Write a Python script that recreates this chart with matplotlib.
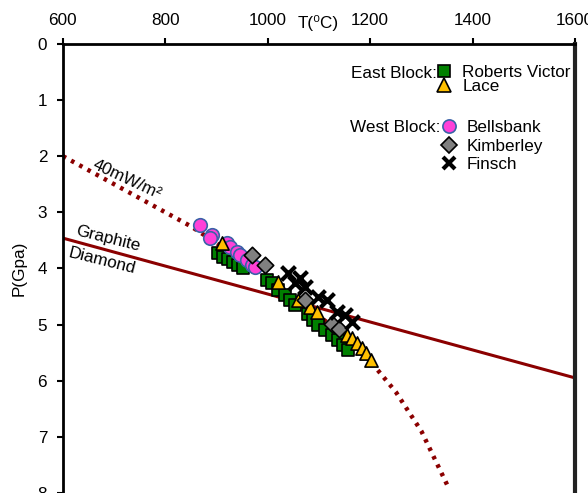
import matplotlib
matplotlib.use("Agg")
import matplotlib.pyplot as plt
from matplotlib.lines import Line2D

plt.rcParams['font.family'] = ['Liberation Sans', 'DejaVu Sans']
plt.rcParams['font.size'] = 12.3

# Roberts Victor (East Block)
rv_t = [903, 912, 922, 932, 942, 952, 998, 1008, 1020, 1034, 1043, 1053,
        1078, 1088, 1098, 1112, 1125, 1137, 1147, 1157]
rv_p = [3.73, 3.80, 3.83, 3.89, 3.94, 3.99, 4.21, 4.26, 4.39, 4.47, 4.56, 4.65,
        4.81, 4.92, 5.01, 5.10, 5.19, 5.28, 5.37, 5.45]

# Lace (East Block)
lace_t = [910, 1020, 1059, 1082, 1096, 1155, 1164, 1174, 1184, 1192, 1201]
lace_p = [3.55, 4.24, 4.56, 4.69, 4.78, 5.19, 5.24, 5.33, 5.42, 5.51, 5.63]

# Bellsbank (West Block)
bb_t = [868, 891, 887, 920, 926, 940, 946, 959, 969, 975]
bb_p = [3.23, 3.40, 3.46, 3.55, 3.62, 3.71, 3.76, 3.85, 3.94, 3.97]

# Kimberley (West Block)
kim_t = [969, 994, 1073, 1125, 1140]
kim_p = [3.76, 3.94, 4.56, 4.99, 5.08]

# Finsch (West Block)
fin_t = [1039, 1063, 1053, 1073, 1098, 1116, 1135, 1151, 1164]
fin_p = [4.08, 4.17, 4.26, 4.33, 4.51, 4.56, 4.78, 4.83, 4.96]

# 40 mW/m2 geotherm
geo_t = [600, 700, 800, 850, 900, 950, 1000, 1050, 1100, 1150, 1200, 1250, 1300, 1350]
geo_p = [2.0, 2.5, 3.0, 3.25, 3.55, 3.85, 4.15, 4.5, 4.85, 5.2, 5.65, 6.2, 6.9, 7.85]

# graphite-diamond transition
gd_t = [600, 1600]
gd_p = [3.46, 5.95]

x_ticks = [600, 800, 1000, 1200, 1400, 1600]
y_ticks = [0, 1, 2, 3, 4, 5, 6, 7, 8]

dark_red = '#8B0000'
fs = 12.3


def main():
    fig = plt.figure(figsize=(5.88, 4.93), dpi=100)
    ax = fig.add_axes([0.107, 0.0, 0.871, 0.911])

    ax.plot(gd_t, gd_p, color=dark_red, lw=2.2, zorder=2)
    ax.plot(geo_t, geo_p, color=dark_red, lw=3.2, linestyle=(0, (0.8, 1.3)),
            dash_capstyle='butt', zorder=2)

    ax.scatter(rv_t, rv_p, marker='s', s=70, color='#008000',
               edgecolor='black', linewidth=1.2, zorder=3)
    ax.scatter(bb_t, bb_p, marker='o', s=95, color='#FF40D8',
               edgecolor='#3A62A8', linewidth=1.2, zorder=4)
    ax.scatter(lace_t, lace_p, marker='^', s=90, color='#FFC000',
               edgecolor='black', linewidth=1.2, zorder=5)
    ax.scatter(kim_t, kim_p, marker='D', s=70, color='#808080',
               edgecolor='black', linewidth=1.2, zorder=6)
    ax.scatter(fin_t, fin_p, marker='x', s=100, color='black',
               linewidth=3, zorder=7)

    ax.set_xlim(600, 1600)
    ax.set_ylim(8, 0)
    ax.set_xticks(x_ticks)
    ax.set_yticks(y_ticks)
    ax.xaxis.tick_top()
    ax.tick_params(axis='both', direction='out', length=4.3, width=1.5,
                   labelsize=fs, colors='black', pad=7)
    ax.spines['bottom'].set_visible(False)
    ax.spines['top'].set_linewidth(2)
    ax.spines['left'].set_linewidth(2)
    ax.spines['right'].set_linewidth(3)
    ax.spines['right'].set_color('#222222')

    ax.set_ylabel('P(Gpa)', fontsize=fs, labelpad=8)
    ax.text(0.498, 1.036, 'T(\u2070C)', transform=ax.transAxes,
            ha='center', va='baseline', fontsize=fs)

    ax.text(623, 3.40, 'Graphite', rotation=-14, fontsize=fs,
            ha='left', va='baseline', rotation_mode='anchor')
    ax.text(610, 3.79, 'Diamond', rotation=-14, fontsize=fs,
            ha='left', va='baseline', rotation_mode='anchor')
    ax.text(657, 2.21, '40mW/m\u00b2', rotation=-25, fontsize=fs,
            ha='left', va='baseline', rotation_mode='anchor')

    # legend
    east = [Line2D([], [], marker='s', ls='none', ms=9, mfc='#008000', mec='black', mew=1.2),
            Line2D([], [], marker='^', ls='none', ms=10, mfc='#FFC000', mec='black', mew=1.2)]
    west = [Line2D([], [], marker='o', ls='none', ms=9.5, mfc='#FF40D8', mec='#3A62A8', mew=1.2),
            Line2D([], [], marker='D', ls='none', ms=8, mfc='#808080', mec='black', mew=1.2),
            Line2D([], [], marker='x', ls='none', ms=9, mec='black', mew=3)]
    leg1 = ax.legend(east, ['Roberts Victor', 'Lace'], loc='center left',
                     bbox_to_anchor=(0.73, 0.921), frameon=False, borderpad=0,
                     handlelength=0.9, handletextpad=0.6, labelspacing=-0.05,
                     fontsize=fs, borderaxespad=0)
    ax.add_artist(leg1)
    ax.legend(west, ['Bellsbank', 'Kimberley', 'Finsch'], loc='center left',
              bbox_to_anchor=(0.738, 0.772), frameon=False, borderpad=0,
              handlelength=0.9, handletextpad=0.6, labelspacing=0.2,
              fontsize=fs, borderaxespad=0)
    ax.text(0.731, 0.933, 'East Block:', transform=ax.transAxes,
            ha='right', va='center', fontsize=fs)
    ax.text(0.737, 0.813, 'West Block:', transform=ax.transAxes,
            ha='right', va='center', fontsize=fs)

    fig.savefig('out.png', dpi=100)


if __name__ == "__main__":
    main()
